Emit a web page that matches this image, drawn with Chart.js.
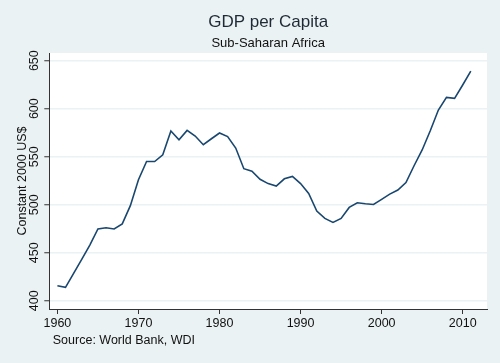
<!DOCTYPE html>
<html>
<head>
<meta charset="utf-8">
<script src="https://cdn.jsdelivr.net/npm/chart.js@4"></script>
<style>
html,body{margin:0;padding:0;background:#eaf2f3;}
#wrap{width:500px;height:363px;}
</style>
</head>
<body>
<div id="wrap"><canvas id="c" width="500" height="363"></canvas></div>
<script>
const years = [1960,1961,1962,1963,1964,1965,1966,1967,1968,1969,1970,1971,1972,1973,1974,1975,1976,1977,1978,1979,1980,1981,1982,1983,1984,1985,1986,1987,1988,1989,1990,1991,1992,1993,1994,1995,1996,1997,1998,1999,2000,2001,2002,2003,2004,2005,2006,2007,2008,2009,2010,2011];
const gdpPerCapita = [415.6,413.9,428.5,443,458,474.7,476,474.7,480,499,526,545,545,552,576.7,567.7,577.4,571.5,562.5,568.7,574.7,571,559,537.5,535,526.5,522,519.4,527,529.5,522,511.8,493.4,485.8,481.6,485.8,497.2,502,501,500.3,505.6,511,515.3,523,540.6,557,577,598.6,611.8,610.8,624.7,639.2];
const xTickLabels = [1960,1970,1980,1990,2000,2010];
const yTickLabels = [400,450,500,550,600,650];

const textColor = '#111';
const axisColor = '#333';
const bgColor = '#eaf2f3';

const bgPlugin = {
  id: 'bg',
  beforeDraw(chart) {
    const {ctx, chartArea: a} = chart;
    ctx.save();
    ctx.fillStyle = bgColor;
    ctx.fillRect(0, 0, chart.width, chart.height);
    ctx.fillStyle = '#ffffff';
    ctx.fillRect(a.left, a.top, a.right - a.left, a.bottom - a.top);
    ctx.restore();
  }
};

new Chart(document.getElementById('c'), {
  type: 'line',
  data: {
    datasets: [{
      data: years.map((y, i) => ({x: y, y: gdpPerCapita[i]})),
      borderColor: '#1a476f',
      borderWidth: 1.6,
      pointRadius: 0,
      tension: 0,
      fill: false
    }]
  },
  options: {
    responsive: false,
    animation: false,
    layout: {padding: {left: 15, right: 13, top: 6, bottom: 14.7}},
    plugins: {
      legend: {display: false},
      tooltip: {enabled: false},
      title: {
        display: true,
        text: 'GDP per Capita',
        fullSize: false,
        color: '#1f2a36',
        font: {family: 'Liberation Sans', size: 17, weight: 'normal', lineHeight: 1.2},
        padding: {top: 6.3, bottom: 2.7}
      },
      subtitle: {
        display: true,
        text: 'Sub-Saharan Africa',
        fullSize: false,
        color: textColor,
        font: {family: 'Liberation Sans', size: 13, weight: 'normal', lineHeight: 1.2},
        padding: {top: 0, bottom: 2}
      }
    },
    scales: {
      x: {
        type: 'linear',
        min: 1959,
        max: 2013,
        afterBuildTicks(scale) { scale.ticks = xTickLabels.map(v => ({value: v})); },
        afterFit(scale) { scale.height = 39.3; },
        ticks: {
          callback: v => String(v),
          color: textColor,
          font: {family: 'Liberation Sans', size: 12.5},
          padding: 1.7,
          maxRotation: 0,
          minRotation: 0
        },
        grid: {drawOnChartArea: false, tickLength: 5, tickColor: axisColor},
        border: {color: axisColor, width: 1},
        title: {
          display: true,
          text: ' Source: World Bank, WDI',
          align: 'start',
          color: textColor,
          font: {family: 'Liberation Sans', size: 12.5},
          padding: {top: 2.6, bottom: 0}
        }
      },
      y: {
        type: 'linear',
        min: 391.4,
        max: 658,
        afterBuildTicks(scale) { scale.ticks = yTickLabels.map(v => ({value: v})); },
        afterFit(scale) { scale.width = 34.3; },
        ticks: {
          callback: v => String(v),
          color: textColor,
          font: {family: 'Liberation Sans', size: 12.5},
          padding: -1.15,
          crossAlign: 'center',
          minRotation: 90,
          maxRotation: 90
        },
        grid: {color: bgColor, lineWidth: 1.5, tickLength: 5, tickColor: axisColor, tickWidth: 1},
        border: {color: axisColor, width: 1},
        title: {
          display: true,
          text: 'Constant 2000 US$',
          color: textColor,
          font: {family: 'Liberation Sans', size: 12.5},
          padding: {top: 0, bottom: 2}
        }
      }
    }
  },
  plugins: [bgPlugin]
});
</script>
</body>
</html>
